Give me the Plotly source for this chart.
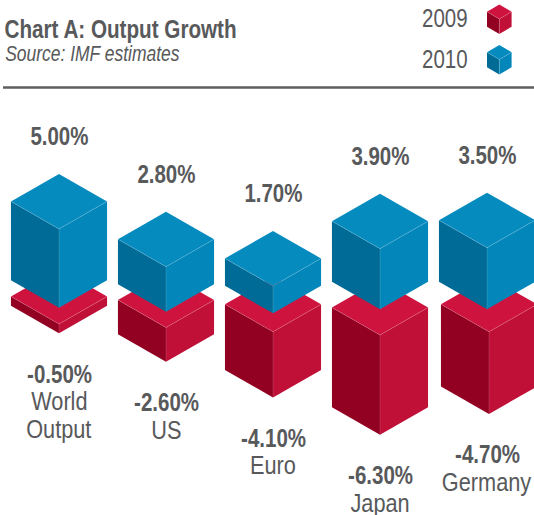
import plotly.graph_objects as go

# ---------- data ----------
categories = ["World<br>Output", "US", "Euro", "Japan", "Germany"]
growth_2009 = [-0.5, -2.6, -4.1, -6.3, -4.7]
growth_2010 = [5.0, 2.8, 1.7, 3.9, 3.5]
# block heights as actually drawn in the picture, in percentage points
drawn_2009 = [0.58, 2.14, 4.1, 6.23, 5.13]
drawn_2010 = [4.92, 2.81, 1.71, 3.79, 3.85]
# gaps between the zero level and each block, in percentage points
lift_2009 = [-0.25, -0.47, -0.74, -0.94, -0.74]
lift_2010 = [0.77, 0.52, 0.42, 0.67, 0.67]

# ---------- styling / layout ----------
W, H = 534, 515
PX_X, PX_Y = 107.0, 16.0      # pixels per category, pixels per point
X0, Y0 = 59.0, 320.0          # pixel position of first category and of zero
HALF_W, HALF_D = 0.449, 27.5 / PX_Y
GREY = "#58595b"
FONT = "Liberation Sans"
RED = dict(top="#cf133f", left="#920022", right="#c01038")
BLUE = dict(top="#068bbf", left="#006b96", right="#0387ba")
SEAM = "rgba(255,255,255,0.2)"


def dx(p):
    return (p - X0) / PX_X


def dy(p):
    return (Y0 - p) / PX_Y


fig = go.Figure()


def face(xs, ys, color):
    fig.add_trace(go.Scatter(x=xs + xs[:1], y=ys + ys[:1], mode="lines", fill="toself",
                             fillcolor=color, line=dict(width=0, color=color),
                             hoverinfo="skip", showlegend=False))


def cube(cx, top, height, pal, hw=HALF_W, hd=HALF_D):
    """Isometric block: `top` is the front-top corner, `height` goes downward."""
    bot = top - height
    face([cx - hw, cx, cx, cx - hw], [top + hd, top, bot, bot + hd], pal["left"])
    face([cx, cx + hw, cx + hw, cx], [top, top + hd, bot + hd, bot], pal["right"])
    face([cx - hw, cx, cx + hw, cx], [top + hd, top + 2 * hd, top + hd, top], pal["top"])
    fig.add_trace(go.Scatter(x=[cx - hw, cx, cx + hw, None, cx, cx],
                             y=[top + hd, top, top + hd, None, top, bot],
                             mode="lines", line=dict(width=0.7, color=SEAM),
                             hoverinfo="skip", showlegend=False))


annotations = []


def label(x, y, text, size, bold=False, italic=False):
    annotations.append(dict(x=x, y=y, xref="x", yref="y", text=text, showarrow=False,
                            xanchor="center", yanchor="middle",
                            font=dict(family=FONT, size=size, color=GREY,
                                      weight=700 if bold else 400,
                                      style="italic" if italic else "normal")))


nudge_2009 = [0, 0, 0, 0, 2 / PX_X]
for i, cat in enumerate(categories):
    # 2009 sits below zero, drawn first so that the 2010 block overlaps it
    top09 = lift_2009[i]
    cube(i + nudge_2009[i], top09, drawn_2009[i], RED)
    bottom = top09 - drawn_2009[i]
    label(i, bottom - 40.5 / PX_Y, f"{growth_2009[i]:.2f}%", 25, bold=True)
    for k, part in enumerate(cat.split("<br>")):
        label(i, bottom - (68 + 28 * k) / PX_Y, part, 26.5)

for i, cat in enumerate(categories):
    top10 = lift_2010[i] + drawn_2010[i]
    cube(i, top10, drawn_2010[i], BLUE)
    label(i, top10 + 2 * HALF_D + 38 / PX_Y, f"{growth_2010[i]:.2f}%", 25, bold=True)

# header
label(dx(120.5), dy(28.5), "Chart A: Output Growth", 25.2, bold=True)
label(dx(92), dy(54), "Source: IMF estimates", 21.3, italic=True)

# legend
legend = [("2009", RED, 18), ("2010", BLUE, 58.5)]
for name, pal, py in legend:
    label(dx(445), dy(py), name, 25)
    cube(dx(499.3), dy(py + 1), 15 / PX_Y, pal, hw=12.3 / PX_X, hd=7.3 / PX_Y)

fig.update_layout(
    width=W, height=H,
    margin=dict(l=0, r=0, t=0, b=0),
    paper_bgcolor="white", plot_bgcolor="white",
    showlegend=False,
    annotations=annotations,
    xaxis=dict(range=[dx(0), dx(W)], visible=False, fixedrange=True),
    yaxis=dict(range=[dy(H), dy(0)], visible=False, fixedrange=True),
    shapes=[dict(type="line", xref="x", yref="y", x0=dx(3), x1=dx(W),
                 y0=dy(87.5), y1=dy(87.5), line=dict(color="#5f5f5f", width=2.5))],
)
# the reference uses a condensed face: narrow the real text glyphs, and drop the page margin
post = """
document.body.style.margin = '0';
document.querySelectorAll('.annotation-text').forEach(function (t) {
  t.setAttribute('lengthAdjust', 'spacingAndGlyphs');
  t.setAttribute('textLength', (t.getComputedTextLength() * 0.82).toFixed(1));
});
"""
fig.write_html("out.html", config=dict(displayModeBar=False), post_script=post)
